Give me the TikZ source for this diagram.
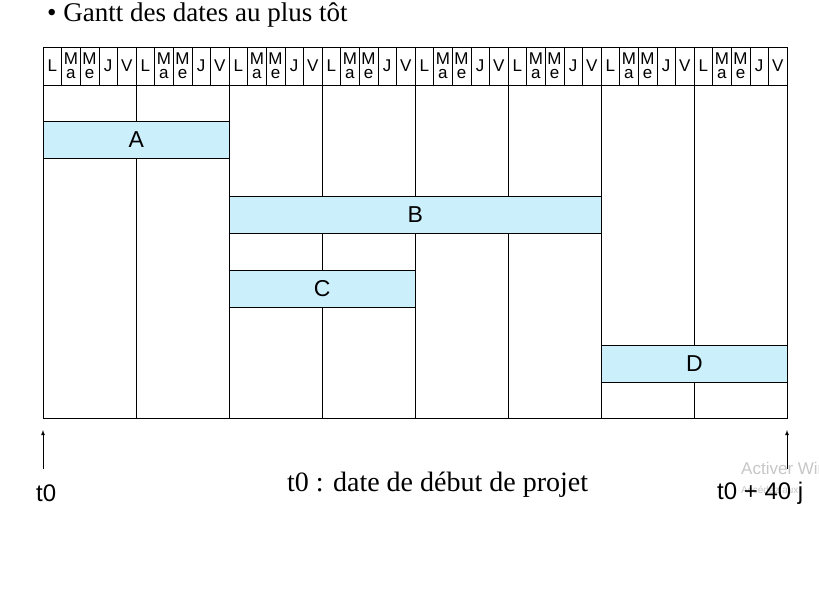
\documentclass[tikz,border=0pt]{standalone}
\usepackage{fontspec}
\setmainfont{Liberation Sans}
\newfontfamily\serif{Liberation Serif}
\begin{document}
\begin{tikzpicture}[x=1pt,y=-1pt,
  bar/.style={draw=black,fill=cyan!20,line width=0.6pt},
  day/.style={font=\fontsize{17}{14}\selectfont,inner sep=0pt,align=center},
  lbl/.style={font=\fontsize{23}{23}\selectfont,inner sep=0pt},
  arr/.style={-latex,line width=0.8pt}]
\useasboundingbox (0,0) rectangle (819,591);
\clip (0,0) rectangle (819,591);
\node[anchor=west,font=\serif\fontsize{27}{27}\selectfont,inner sep=0pt] (title) at (47,15) {• Gantt des dates au plus tôt};
% header
\draw[line width=0.6pt] (43,47) rectangle (787,85);
\draw[line width=0.6pt] (43,85) rectangle (787,418);
\foreach \w in {0,...,7}{
  \pgfmathsetmacro\xo{43+93*\w}
  \foreach \d/\t in {0/L,1/{M\\a},2/{M\\e},3/J,4/V}{
    \pgfmathsetmacro\xa{\xo+18.6*\d}
    \draw[line width=0.6pt] (\xa,47) -- (\xa,85);
    \node[day] at (\xa+9.3,66) {\t};
  }
  \draw[line width=0.6pt] (\xo,85) -- (\xo,418);
}
\node[anchor=west,font=\fontsize{17}{17}\selectfont,inner sep=0pt,text=gray!45] (wm) at (741,468) {Activer Windows};
\node[anchor=west,font=\fontsize{10}{10}\selectfont,inner sep=0pt,text=gray!45] (wm2) at (741,490) {Accédez aux};
\node[bar,minimum width=186,minimum height=37,inner sep=0pt,anchor=north west,lbl] (A) at (43,121) {A};
\node[bar,minimum width=372,minimum height=37,inner sep=0pt,anchor=north west,lbl] (B) at (229,196) {B};
\node[bar,minimum width=186,minimum height=37,inner sep=0pt,anchor=north west,lbl] (C) at (229,270) {C};
\node[bar,minimum width=186,minimum height=37,inner sep=0pt,anchor=north west,lbl] (D) at (601,345) {D};
\coordinate (s0) at (43,469); \coordinate (e0) at (43,430);
\coordinate (s1) at (787,469); \coordinate (e1) at (787,430);
\draw[arr] (s0) -- (e0);
\draw[arr] (s1) -- (e1);
\node[anchor=west,font=\fontsize{24}{24}\selectfont,inner sep=0pt] (t0) at (36,493) {t0};
\node[anchor=west,font=\serif\fontsize{28}{28}\selectfont,inner sep=0pt] (leg) at (287,485) {t0 : date de début de projet};
\node[anchor=west,font=\fontsize{24}{24}\selectfont,inner sep=0pt] (t40) at (717,493) {t0 + 40 j};
\end{tikzpicture}
\end{document}
